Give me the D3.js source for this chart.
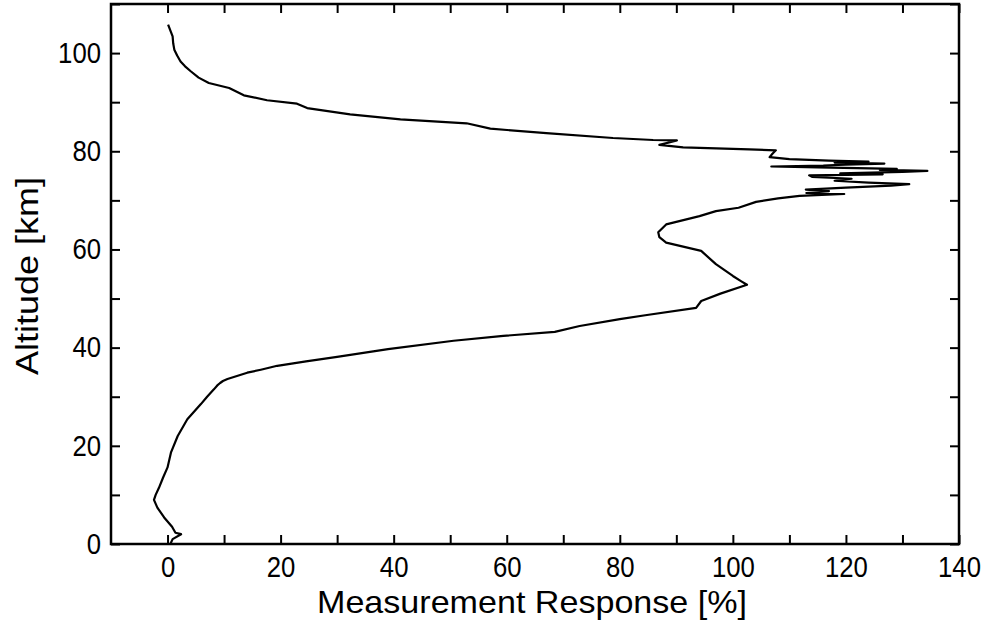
<!DOCTYPE html>
<html>
<head>
  <title>Measurement Response</title>
  <script src="https://d3js.org/d3.v7.min.js"></script>
  <style>
    body { margin: 0; background: #fff; }
    .tick text {
      font-family: "Liberation Sans", Arial, sans-serif;
      font-size: 29px;
      fill: #000;
    }
    .tick line { stroke: #000; stroke-width: 2; }
    .domain { stroke: none; }
    .title {
      font-family: "Liberation Sans", Arial, sans-serif;
      font-size: 32px;
      fill: #000;
    }
  </style>
</head>
<body>
  <svg id="chart" width="987" height="621"></svg>

  <script>
    // profile, bottom to top
    const altitude = [
      0.0, 1.0, 2.0, 2.3, 3.5, 5.4, 7.4, 9.0, 10.0, 11.5,
      13.5, 15.6, 18.6, 22.0, 25.4, 28.5, 30.0, 31.5, 32.3, 32.8,
      33.2, 33.6, 34.9, 35.5, 36.3, 37.2, 38.1, 39.7, 41.4, 42.4,
      43.2, 44.4, 45.8, 46.6, 48.1, 49.5, 51.0, 52.8, 53.5, 54.6,
      57.0, 59.7, 61.4, 62.5, 63.5, 65.1, 66.8, 67.8, 68.5, 69.7,
      70.4, 70.9, 71.3, 71.5, 71.9, 72.2, 72.6, 73.0, 73.3, 73.6,
      74.0, 74.4, 74.8, 75.1, 75.3, 75.5, 75.8, 76.0, 76.2, 76.4,
      76.7, 76.9, 77.1, 77.3, 77.5, 77.7, 77.9, 78.1, 78.4, 78.8,
      79.5, 80.2, 80.4, 80.8, 81.3, 82.2, 82.3, 82.7, 83.7, 84.6,
      85.7, 86.5, 87.5, 88.8, 89.7, 90.4, 91.4, 92.9, 93.9, 95.0,
      96.3, 97.3, 98.3, 99.5, 100.7, 102.0, 103.4, 105.8
    ];
    const response = [
      0.5, 0.9, 2.4, 1.4, 0.8, -0.6, -1.8, -2.4, -2.1, -1.5,
      -0.8, 0.0, 0.6, 1.8, 3.5, 5.9, 7.0, 8.2, 8.8, 9.3,
      9.8, 10.6, 14.1, 16.5, 19.4, 24.5, 30.0, 39.0, 50.6, 59.4,
      68.5, 72.9, 80.0, 84.5, 93.5, 94.4, 97.8, 102.5, 101.5, 100.0,
      97.0, 94.4, 88.2, 87.0, 86.8, 88.2, 94.1, 97.0, 101.0, 104.1,
      108.0, 111.8, 119.7, 113.0, 117.0, 112.9, 120.0, 128.0, 131.2, 124.0,
      118.0, 121.0, 114.0, 113.5, 126.5, 119.0, 130.0, 134.4, 126.0, 129.0,
      115.0, 106.8, 116.0, 120.0, 126.8, 118.0, 124.0, 117.0, 110.0, 106.5,
      107.0, 107.6, 102.9, 91.2, 87.0, 90.1, 85.9, 78.8, 67.0, 57.1,
      52.9, 41.2, 32.3, 24.7, 22.9, 17.6, 13.5, 10.9, 7.3, 5.5,
      4.1, 3.1, 2.3, 1.7, 1.2, 1.0, 0.9, 0.1
    ];

    const xTicks = d3.range(0, 150, 10);
    const yTicks = d3.range(0, 120, 10);
    const xLabels = [0, 20, 40, 60, 80, 100, 120, 140];
    const yLabels = [0, 20, 40, 60, 80, 100];

    const svg = d3.select("#chart");
    const margin = {top: 4, right: 28, bottom: 77, left: 111};
    const width = 987, height = 621;

    const x = d3.scaleLinear().domain([-10, 140]).range([margin.left, width - margin.right]);
    const y = d3.scaleLinear().domain([0, 110]).range([height - margin.bottom, margin.top]);

    const tickLen = 9;

    // digits in the original are narrow, squeeze them a bit
    function narrow(sel) {
      sel.selectAll(".tick text")
        .filter(function() { return this.textContent !== ""; })
        .attr("textLength", function() { return this.textContent.length * 14.3; })
        .attr("lengthAdjust", "spacingAndGlyphs");
    }

    // bottom + left with labels
    svg.append("g")
      .attr("transform", `translate(0, ${y(0)})`)
      .call(d3.axisBottom(x).tickValues(xTicks).tickSize(-tickLen).tickPadding(12)
        .tickFormat(d => xLabels.includes(d) ? d : ""))
      .call(narrow);

    svg.append("g")
      .attr("transform", `translate(${x(-10)}, 0)`)
      .call(d3.axisLeft(y).tickValues(yTicks).tickSize(-tickLen).tickPadding(10)
        .tickFormat(d => yLabels.includes(d) ? d : ""))
      .call(narrow);

    // mirrored ticks top + right
    svg.append("g")
      .attr("transform", `translate(0, ${y(110)})`)
      .call(d3.axisTop(x).tickValues(xTicks).tickSize(-tickLen).tickFormat(""));

    svg.append("g")
      .attr("transform", `translate(${x(140)}, 0)`)
      .call(d3.axisRight(y).tickValues(yTicks).tickSize(-tickLen).tickFormat(""));

    // frame
    svg.append("rect")
      .attr("x", x(-10))
      .attr("y", y(110))
      .attr("width", x(140) - x(-10))
      .attr("height", y(0) - y(110))
      .attr("fill", "none")
      .attr("stroke", "#000")
      .attr("stroke-width", 2.5);

    const line = d3.line()
      .x((d, i) => x(response[i]))
      .y(d => y(d));

    svg.append("path")
      .datum(altitude)
      .attr("d", line)
      .attr("fill", "none")
      .attr("stroke", "#000")
      .attr("stroke-width", 2.2)
      .attr("stroke-linejoin", "round");

    svg.append("text")
      .attr("class", "title")
      .attr("x", 532)
      .attr("y", 613)
      .attr("text-anchor", "middle")
      .attr("textLength", 430)
      .attr("lengthAdjust", "spacingAndGlyphs")
      .text("Measurement Response [%]");

    svg.append("text")
      .attr("class", "title")
      .attr("transform", "translate(38, 276) rotate(-90)")
      .attr("text-anchor", "middle")
      .attr("textLength", 198)
      .attr("lengthAdjust", "spacingAndGlyphs")
      .text("Altitude [km]");
  </script>
</body>
</html>
